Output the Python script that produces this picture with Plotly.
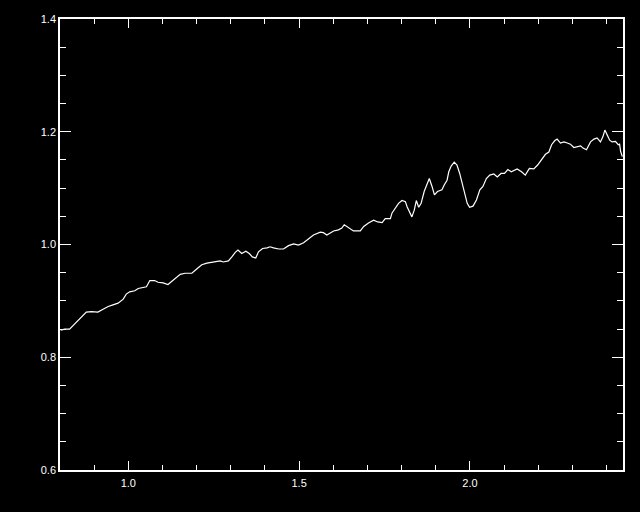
import plotly.graph_objects as go

wavelength = [0.802, 0.814, 0.828, 0.838, 0.853, 0.867, 0.877, 0.892, 0.902, 0.911,
              0.926, 0.941, 0.955, 0.970, 0.985, 0.994, 1.004, 1.019, 1.029, 1.043,
              1.053, 1.063, 1.077, 1.087, 1.102, 1.116, 1.126, 1.141, 1.152, 1.166,
              1.186, 1.201, 1.215, 1.230, 1.244, 1.259, 1.269, 1.278, 1.293, 1.303,
              1.313, 1.321, 1.332, 1.344, 1.354, 1.363, 1.373, 1.381, 1.393, 1.406,
              1.415, 1.425, 1.440, 1.454, 1.469, 1.484, 1.498, 1.513, 1.528, 1.542,
              1.562, 1.571, 1.581, 1.591, 1.601, 1.615, 1.625, 1.632, 1.642, 1.659,
              1.679, 1.689, 1.703, 1.718, 1.730, 1.743, 1.752, 1.767, 1.772, 1.782,
              1.791, 1.801, 1.811, 1.816, 1.825, 1.830, 1.837, 1.843, 1.850, 1.857,
              1.866, 1.874, 1.881, 1.889, 1.896, 1.905, 1.918, 1.925, 1.933, 1.938,
              1.945, 1.954, 1.962, 1.970, 1.977, 1.985, 1.992, 1.999, 2.009, 2.019,
              2.029, 2.038, 2.048, 2.058, 2.070, 2.080, 2.091, 2.101, 2.111, 2.121,
              2.133, 2.138, 2.151, 2.162, 2.174, 2.187, 2.198, 2.211, 2.221, 2.231,
              2.239, 2.248, 2.255, 2.265, 2.275, 2.285, 2.294, 2.304, 2.314, 2.324,
              2.331, 2.341, 2.353, 2.363, 2.372, 2.382, 2.389, 2.395, 2.402, 2.409,
              2.416, 2.426, 2.434, 2.438, 2.441, 2.446]

flux = [0.848, 0.850, 0.850, 0.856, 0.864, 0.874, 0.880, 0.881, 0.880, 0.880,
        0.885, 0.890, 0.893, 0.896, 0.903, 0.912, 0.916, 0.918, 0.922, 0.923,
        0.925, 0.936, 0.936, 0.933, 0.932, 0.929, 0.934, 0.941, 0.947, 0.949,
        0.949, 0.957, 0.964, 0.967, 0.968, 0.969, 0.971, 0.969, 0.971, 0.978,
        0.986, 0.990, 0.984, 0.988, 0.984, 0.978, 0.976, 0.987, 0.993, 0.994,
        0.996, 0.994, 0.992, 0.992, 0.998, 1.001, 0.999, 1.003, 1.011, 1.017,
        1.022, 1.021, 1.017, 1.020, 1.024, 1.026, 1.029, 1.035, 1.031, 1.024,
        1.024, 1.032, 1.038, 1.043, 1.040, 1.039, 1.046, 1.046, 1.056, 1.064,
        1.073, 1.078, 1.076, 1.067, 1.056, 1.049, 1.061, 1.078, 1.066, 1.073,
        1.094, 1.106, 1.117, 1.103, 1.088, 1.094, 1.097, 1.106, 1.114, 1.129,
        1.139, 1.146, 1.141, 1.126, 1.109, 1.088, 1.073, 1.066, 1.068, 1.079,
        1.097, 1.103, 1.117, 1.123, 1.125, 1.120, 1.126, 1.126, 1.133, 1.129,
        1.133, 1.134, 1.129, 1.123, 1.135, 1.134, 1.141, 1.153, 1.160, 1.164,
        1.177, 1.184, 1.187, 1.180, 1.182, 1.180, 1.178, 1.172, 1.173, 1.175,
        1.171, 1.168, 1.182, 1.187, 1.189, 1.182, 1.191, 1.203, 1.194, 1.185,
        1.182, 1.183, 1.177, 1.178, 1.165, 1.156]

x_major = [1.0, 1.5, 2.0]
x_labels = ["1.0", "1.5", "2.0"]
y_major = [0.6, 0.8, 1.0, 1.2, 1.4]
y_labels = ["0.6", "0.8", "1.0", "1.2", "1.4"]

fig = go.Figure()
fig.add_trace(go.Scatter(x=wavelength, y=flux, mode="lines",
                         line=dict(color="white", width=1.2), hoverinfo="skip"))

font = dict(family="Liberation Sans, DejaVu Sans, sans-serif", size=11, color="white")

fig.update_layout(
    width=640, height=512,
    margin=dict(l=60, r=17, t=19, b=42),
    paper_bgcolor="black", plot_bgcolor="black",
    showlegend=False,
    font=font,
    xaxis=dict(range=[0.8, 2.448], tickmode="array", tickvals=x_major, ticktext=x_labels,
               ticks="inside", ticklen=9, tickwidth=1, tickcolor="white",
               showline=True, linecolor="white", linewidth=1.5, mirror="allticks",
               showgrid=False, zeroline=False, ticklabelstandoff=2,
               minor=dict(dtick=0.1, tick0=0.8, ticks="inside", ticklen=5,
                          tickwidth=1, tickcolor="white", showgrid=False),
               tickfont=font),
    yaxis=dict(range=[0.6, 1.4], tickmode="array", tickvals=y_major, ticktext=y_labels,
               ticks="inside", ticklen=11, tickwidth=1, tickcolor="white",
               showline=True, linecolor="white", linewidth=1.5, mirror="allticks",
               showgrid=False, zeroline=False,
               minor=dict(dtick=0.05, tick0=0.6, ticks="inside", ticklen=6,
                          tickwidth=1, tickcolor="white", showgrid=False),
               tickfont=font),
)

fig.write_html(
    "out.html",
    config={"displayModeBar": False},
    post_script="document.body.style.margin='0';document.body.style.padding='0';"
                "document.body.style.background='black';"
                "document.documentElement.style.background='black';"
                "document.body.style.overflow='hidden';",
)
